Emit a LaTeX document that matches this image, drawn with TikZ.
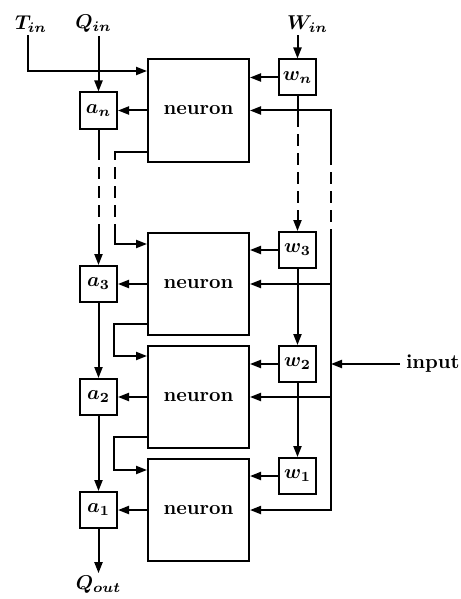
\documentclass[tikz,border=0pt]{standalone}
\usetikzlibrary{arrows.meta, positioning, calc}
\tikzset{
  every picture/.style={line width=1pt},
  neuronbox/.style={draw, minimum width=50.5pt, minimum height=51pt, inner sep=0pt, font=\bfseries},
  cellbox/.style={draw, minimum width=18.5pt, minimum height=18pt, inner sep=0pt, font=\boldmath},
  arrow/.style={-{Triangle[length=5.5pt, width=4pt]}},
  gap/.style={dash pattern=on 6pt off 3.5pt, dash phase=6pt},
  tag/.style={font=\boldmath, inner sep=1pt},
}
\begin{document}
\begin{tikzpicture}[x=0.5pt, y=-0.5pt]
  \useasboundingbox (0,0) rectangle (460,599);
  % neurons
  \node[neuronbox] (nn) at (198.5,110.5) {neuron};
  \node[neuronbox] (n3) at (198.5,284) {neuron};
  \node[neuronbox] (n2) at (198.5,397) {neuron};
  \node[neuronbox] (n1) at (198.5,510) {neuron};
  % accumulators
  \node[cellbox] (an) at (98.5,110.5) {$a_n$};
  \node[cellbox] (a3) at (98.5,284) {$a_3$};
  \node[cellbox] (a2) at (98.5,397) {$a_2$};
  \node[cellbox] (a1) at (98.5,510) {$a_1$};
  % weights
  \node[cellbox] (wn) at (297.5,77.5) {$w_n$};
  \node[cellbox] (w3) at (297.5,250) {$w_3$};
  \node[cellbox] (w2) at (297.5,364) {$w_2$};
  \node[cellbox] (w1) at (297.5,476) {$w_1$};
  % outside labels
  \node[tag] (Tin) at (31,24) {$T_{in}$};
  \node[tag] (Qin) at (93.5,24) {$Q_{in}$};
  \node[tag] (Win) at (307.5,24) {$W_{in}$};
  \node[tag] (Qout) at (98.5,585) {$Q_{out}$};
  \node[font=\bfseries, anchor=west, inner sep=2.5pt] (input) at (400,364) {input};

  % break points of the dashed runs
  \coordinate (qa) at (98.5,160);
  \coordinate (qb) at (98.5,235);
  \coordinate (fa) at (115,160);
  \coordinate (fb) at (115,235);
  \coordinate (wa) at (297.5,127);
  \coordinate (wb) at (297.5,215);
  \coordinate (ba) at (331,165);
  \coordinate (bb) at (331,240);

  % T_in into the top neuron
  \draw[arrow] ([xshift=-1.5pt]Tin.south) |- ($(nn.west)+(0,-39.5)$);

  % Q chain
  \draw[arrow] (Qin.south -| an) -- (an);
  \draw (an) -- (qa);
  \draw[gap] (qa) -- (qb);
  \draw[arrow] (qb) -- (a3);
  \draw[arrow] (a3) -- (a2);
  \draw[arrow] (a2) -- (a1);
  \draw[arrow] (a1) -- (a1 |- Qout.north);

  % neuron outputs
  \draw[arrow] (nn) -- (an);
  \draw[arrow] (n3) -- (a3);
  \draw[arrow] (n2) -- (a2);
  \draw[arrow] (n1) -- (a1);

  % W chain
  \draw[arrow] (Win.south -| wn) -- (wn);
  \draw (wn) -- (wa);
  \draw[gap] (wa) -- (wb);
  \draw[arrow] (wb) -- (w3);
  \draw[arrow] (w3) -- (w2);
  \draw[arrow] (w2) -- (w1);
  \draw[arrow] (wn) -- (wn -| nn.east);
  \draw[arrow] (w3) -- (w3 -| n3.east);
  \draw[arrow] (w2) -- (w2 -| n2.east);
  \draw[arrow] (w1) -- (w1 -| n1.east);

  % input bus
  \draw[arrow] (ba) |- (nn.east);
  \draw[gap] (ba) -- (bb);
  \draw[arrow] (bb) |- (n1.east);
  \draw[arrow] (bb |- n3) -- (n3.east);
  \draw[arrow] (bb |- n2) -- (n2.east);
  \draw[arrow] (input.west) -- (bb |- input);

  % neuron to neuron
  \draw ($(nn.west)+(0,41.5)$) -| (fa);
  \draw[gap] (fa) -- (fb);
  \draw[arrow] (fb) |- ($(n3.west)+(0,-40)$);
  \draw[arrow] ($(n3.west)+(0,40)$) -- ++(-33,0) |- ($(n2.west)+(0,-41)$);
  \draw[arrow] ($(n2.west)+(0,40)$) -- ++(-33,0) |- ($(n1.west)+(0,-40)$);
\end{tikzpicture}
\end{document}
